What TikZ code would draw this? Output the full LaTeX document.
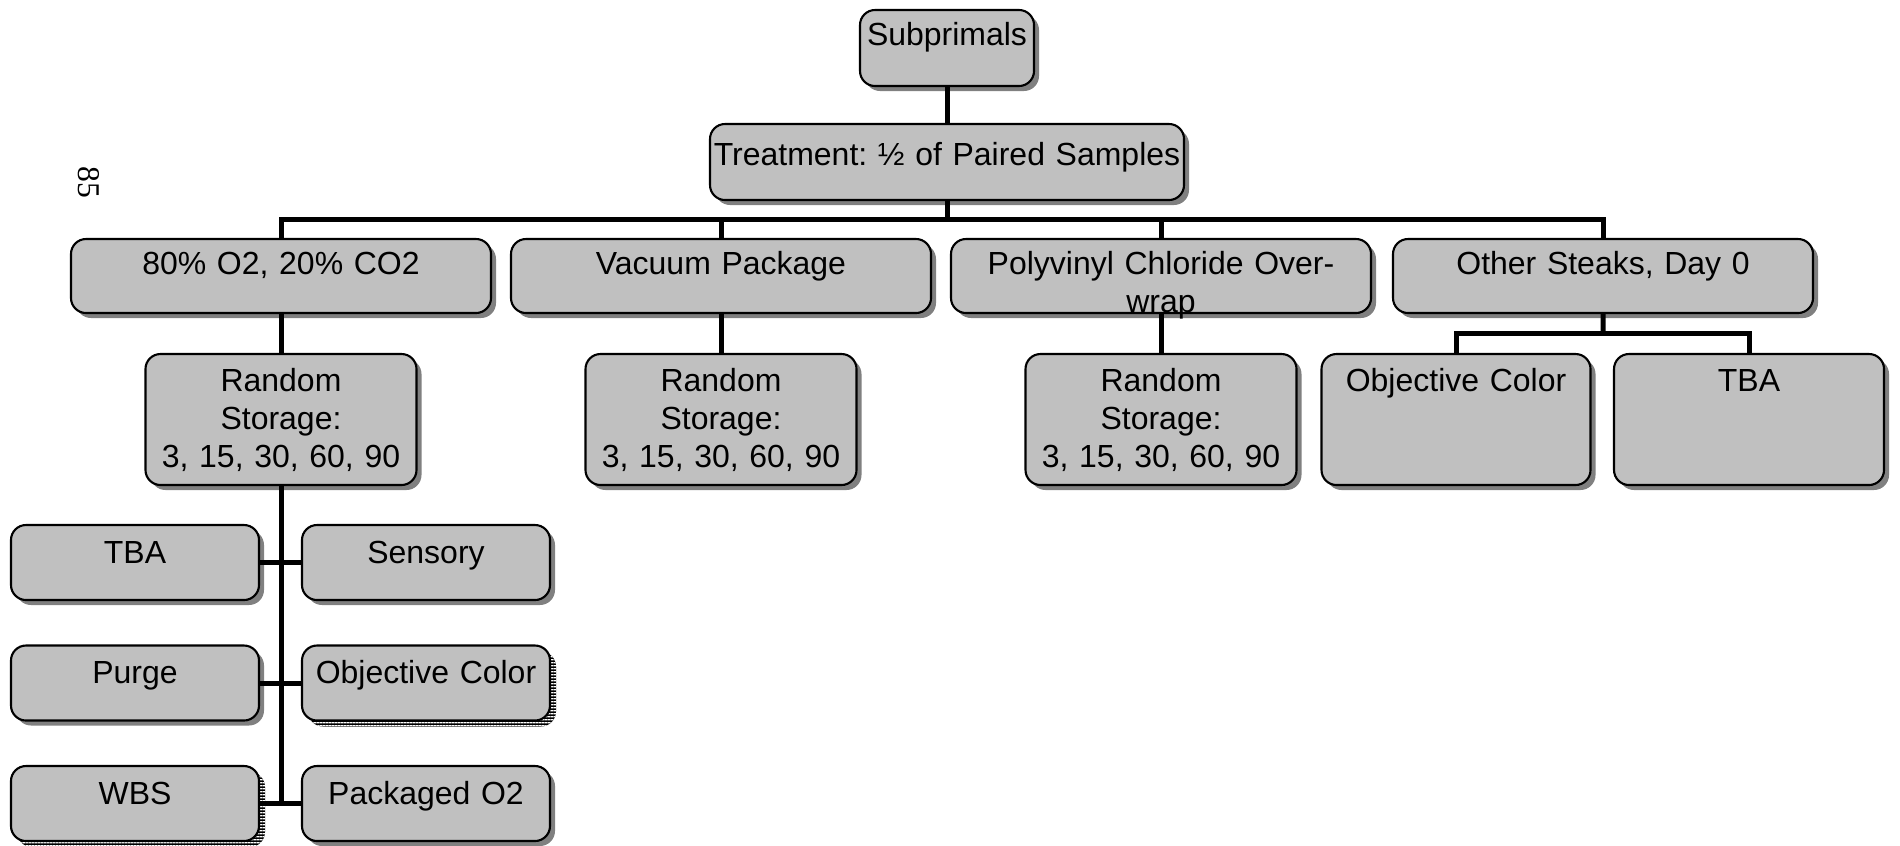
\documentclass[tikz,border=0pt]{standalone}
\usepackage{fontspec}
\setmainfont{Liberation Sans}
\newfontfamily\pagefont{Liberation Serif}
\usetikzlibrary{positioning,shadows,patterns.meta}
\definecolor{boxgray}{RGB}{192,192,192}
\definecolor{shadowgray}{RGB}{128,128,128}
\frenchspacing

\begin{document}
\begin{tikzpicture}[on grid, node distance=4.4cm,
   boxbase/.style={draw, line width=0.6pt, rounded corners=0.15cm, fill=boxgray,
      text width=4.15cm, inner xsep=0.025cm, inner ysep=0pt,
      text height=0.35cm, text depth=0.39cm, align=center,
      font=\fontsize{9.1}{10.9}\selectfont},
   block/.style={boxbase, drop shadow={shadow xshift=0.05cm, shadow yshift=-0.05cm,
      fill=shadowgray, opacity=1}},
   hatchblock/.style={boxbase,
      general shadow={shadow xshift=0.06cm, shadow yshift=-0.06cm, fill=black},
      general shadow={shadow xshift=0.06cm, shadow yshift=-0.06cm,
         pattern={Lines[distance=0.9pt, line width=0.4pt]}, pattern color=white}},
   storage/.style={text width=2.66cm, text height=0.37cm, text depth=0.94cm},
   test/.style={text width=2.43cm, text height=0.38cm, text depth=0.37cm},
   link/.style={line width=0.05cm}]
   \useasboundingbox (0,0) rectangle (19,-8.45);

   \node[font=\pagefont\fontsize{9}{11}\selectfont, rotate=-90] (page) at (0.89,-1.82) {85};

   \node[block, text width=1.72cm, inner xsep=0.01cm, text depth=0.41cm] (sub) at (9.47,-0.48) {Subprimals};
   \node[block, text width=4.74cm, inner xsep=0pt, text height=0.41cm, text depth=0.35cm] (treat) at (9.47,-1.62)
      {Treatment: ½ of Paired Samples};

   \node[block] (mod) at (2.81,-2.76) {80\% O2, 20\% CO2};
   \node[block, right=of mod] (vac) {Vacuum Package};
   \node[block, right=of vac] (pvc) {Polyvinyl Chloride Over-\\wrap};
   \node[block, right=4.42cm of pvc] (day0) {Other Steaks, Day 0};

   \node[block, storage, below=1.435cm of mod] (mod-st) {Random\\Storage:\\3, 15, 30, 60, 90};
   \node[block, storage, below=1.435cm of vac] (vac-st) {Random\\Storage:\\3, 15, 30, 60, 90};
   \node[block, storage, below=1.435cm of pvc] (pvc-st) {Random\\Storage:\\3, 15, 30, 60, 90};
   \node[block, storage, text width=2.64cm] (day0color) at (14.56,-4.195) {Objective Color};
   \node[block, storage, text width=2.65cm] (day0tba) at (17.49,-4.195) {TBA};

   \node[block, test] (tba) at (1.35,-5.625) {TBA};
   \node[block, test] (sensory) at (4.26,-5.625) {Sensory};
   \node[block, test] (purge) at (1.35,-6.83) {Purge};
   \node[hatchblock, test] (color) at (4.26,-6.83) {Objective Color};
   \node[hatchblock, test] (wbs) at (1.35,-8.035) {WBS};
   \node[block, test] (packo2) at (4.26,-8.035) {Packaged O2};

   % tree connectors
   \coordinate (bus) at (9.47,-2.19);
   \coordinate (day0bus) at (16.03,-3.33);
   \draw[link] (sub) -- (treat);
   \draw[link] (treat) -- (bus);
   \draw[link] (mod.north) |- (bus) -| (day0.north);
   \foreach \n in {vac,pvc}
      \draw[link] (\n.north) -- (\n.north |- bus);
   \foreach \n in {mod,vac,pvc}
      \draw[link] (\n) -- (\n-st);
   \draw[link] (day0) -- (day0bus);
   \draw[link] (day0color.north) |- (day0bus) -| (day0tba.north);
   \draw[link] (mod-st.south) -- (mod-st.south |- wbs.east);
   \foreach \l/\r in {tba/sensory, purge/color, wbs/packo2}
      \draw[link] (\l) -- (\r);
\end{tikzpicture}
\end{document}
